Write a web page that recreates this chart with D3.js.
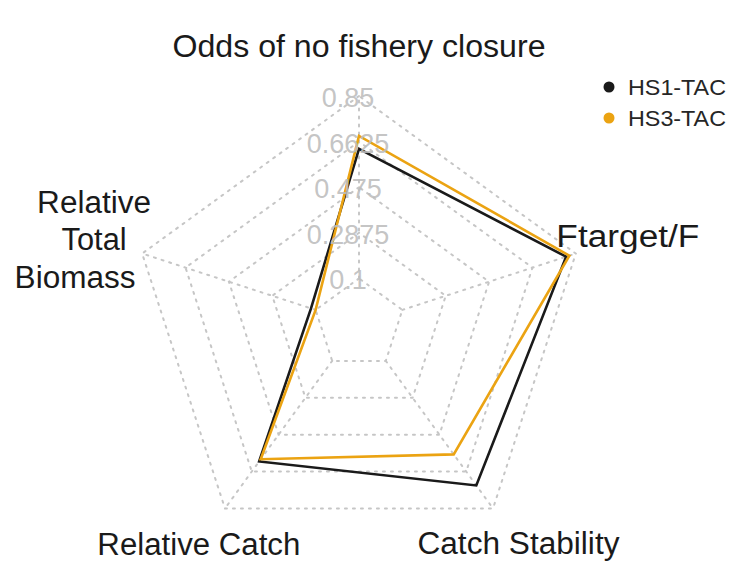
<!DOCTYPE html>
<html>
<head>
<meta charset="utf-8">
<script src="https://cdn.jsdelivr.net/npm/d3@7/dist/d3.min.js"></script>
<style>
  html, body { margin: 0; padding: 0; background: #ffffff; }
  svg { display: block; }
</style>
</head>
<body>
<svg id="chart" width="735" height="561"></svg>
<script>
// ---- data ----
const categories = ["Odds of no fishery closure", "Relative Total Biomass", "Relative Catch", "Catch Stability", "Ftarget/F"];
const seriesNames = ["HS1-TAC", "HS3-TAC"];
const hs1 = [0.633, 0.12, 0.611, 0.733, 0.808];
const hs3 = [0.686, 0.10, 0.600, 0.575, 0.822];
const tickValues = [0.1, 0.2875, 0.475, 0.6625, 0.85];
const tickLabels = ["0.1", "0.2875", "0.475", "0.6625", "0.85"];
const seriesColors = ["#1a1a1a", "#EBA312"];

// ---- layout ----
const cx = 359, cy = 324, R = 228;
const svg = d3.select("#chart");
const font = "'Liberation Sans', Arial, sans-serif";

const r = d3.scaleLinear().domain([tickValues[0], tickValues[tickValues.length - 1]]).range([0.2 * R, R]);
const n = categories.length;
const angle = i => Math.PI / 2 + i * 2 * Math.PI / n;   // counter-clockwise from top
const px = (i, rad) => cx + rad * Math.cos(angle(i));
const py = (i, rad) => cy - rad * Math.sin(angle(i));

const grid = svg.append("g");
const gridColor = "#c6c6c6";
tickValues.forEach(t => {
  const pts = d3.range(n).map(i => [px(i, r(t)), py(i, r(t))]);
  grid.append("path")
    .attr("d", d3.line()(pts) + "Z")
    .attr("fill", "none").attr("stroke", gridColor)
    .attr("stroke-width", 2).attr("stroke-dasharray", "2,6").attr("stroke-linecap", "round");
});
d3.range(n).forEach(i => {
  grid.append("line")
    .attr("x1", px(i, r(tickValues[0]))).attr("y1", py(i, r(tickValues[0])))
    .attr("x2", px(i, R)).attr("y2", py(i, R))
    .attr("stroke", gridColor).attr("stroke-width", 2)
    .attr("stroke-dasharray", "2,6").attr("stroke-linecap", "round");
});

// series
[hs1, hs3].forEach((vals, k) => {
  const pts = vals.map((v, i) => [px(i, r(v)), py(i, r(v))]);
  svg.append("path")
    .attr("d", d3.line()(pts) + "Z")
    .attr("fill", "none").attr("stroke", seriesColors[k])
    .attr("stroke-width", 2.6).attr("stroke-linejoin", "miter");
});

// tick labels
tickValues.forEach((t, j) => {
  svg.append("text")
    .attr("x", cx - 11).attr("y", cy - r(t) + 2)
    .attr("text-anchor", "middle").attr("dominant-baseline", "central")
    .attr("font-family", font).attr("font-size", 27)
    .attr("fill", "#bdbdbd").attr("fill-opacity", 0.9)
    .text(tickLabels[j]);
});

// category labels
const labelLines = [["Odds of no fishery closure"], ["Relative", "Total", "Biomass"], ["Relative Catch"], ["Catch Stability"], ["Ftarget/F"]];
const labelWidths = [[373], [114, 65, 121], [203], [202], [143]];
const lineShiftX = [[0], [4, 4, -15], [0], [0], [0]];
const labelFactor = [1.215, 1.24, 1.195, 1.19, 1.24];
const lineGap = 37.5;
categories.forEach((c, i) => {
  const lx = px(i, R * labelFactor[i]);
  const ly = py(i, R * labelFactor[i]) + (i === 1 ? 3 : 0);
  const lines = labelLines[i];
  lines.forEach((ln, j) => {
    svg.append("text")
      .attr("x", lx + lineShiftX[i][j])
      .attr("y", ly + (j - (lines.length - 1) / 2) * lineGap)
      .attr("text-anchor", "middle").attr("dominant-baseline", "central")
      .attr("font-family", font).attr("font-size", 31).attr("fill", "#1a1a1a")
      .attr("textLength", labelWidths[i][j]).attr("lengthAdjust", "spacingAndGlyphs")
      .text(ln);
  });
});

// legend
const legend = svg.append("g");
seriesNames.forEach((s, k) => {
  const y = 87 + k * 31;
  legend.append("circle").attr("cx", 609).attr("cy", y).attr("r", 5.5).attr("fill", seriesColors[k]);
  legend.append("text").attr("x", 628).attr("y", y)
    .attr("dominant-baseline", "central")
    .attr("font-family", font).attr("font-size", 22).attr("fill", "#262626")
    .attr("textLength", 98).attr("lengthAdjust", "spacingAndGlyphs")
    .text(s);
});
</script>
</body>
</html>
